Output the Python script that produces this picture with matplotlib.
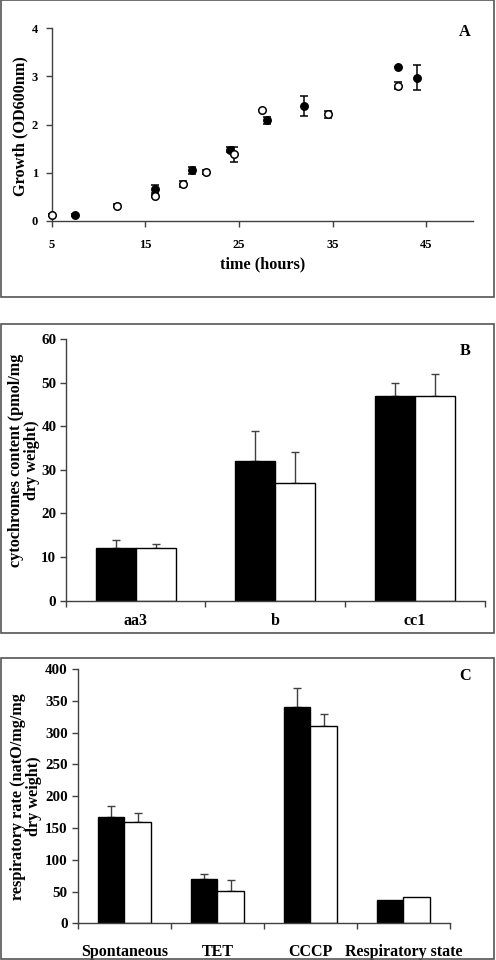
import numpy as np
import matplotlib
matplotlib.use("Agg")
import matplotlib.pyplot as plt
from matplotlib.patches import Rectangle

plt.rcParams['font.family'] = ['Liberation Serif', 'DejaVu Serif']
plt.rcParams['font.weight'] = 'bold'

# panel A: growth curves
t_open = [5, 12, 16, 19, 21.5, 24.5, 27.5, 34.5, 42]
od_open = [0.12, 0.31, 0.52, 0.77, 1.01, 1.38, 2.30, 2.21, 2.81]
err_open = [0.02, 0.03, 0.02, 0.06, 0.04, 0.16, 0.0, 0.08, 0.08]
t_fill = [7.5, 16, 20, 24, 28, 32, 42, 44]
od_fill = [0.12, 0.66, 1.05, 1.48, 2.09, 2.38, 3.19, 2.97]
err_fill = [0.02, 0.09, 0.07, 0.06, 0.07, 0.21, 0.0, 0.26]

# panel B: cytochromes
cyt_names = ["aa3", "b", "cc1"]
cyt_black = [12, 32, 47]
cyt_black_err = [2, 7, 3]
cyt_white = [12, 27, 47]
cyt_white_err = [1, 7, 5]

# panel C: respiratory rate
resp_names = ["Spontaneous", "TET", "CCCP", "Respiratory state"]
resp_black = [167, 70, 340, 36]
resp_black_err = [17, 7, 30, 0]
resp_white = [160, 51, 310, 42]
resp_white_err = [14, 17, 20, 0]

W, H = 496, 960
fig = plt.figure(figsize=(W/100, H/100), dpi=100)
LAB = 11.7

def px_axes(left, right, top, bottom):
    return fig.add_axes([left/W, 1-bottom/H, (right-left)/W, (bottom-top)/H])

def frame(top, bottom):
    fig.patches.append(Rectangle((0.5/W, 1-bottom/H), 493/W, (bottom-top)/H,
                                 transform=fig.transFigure, fill=False,
                                 edgecolor='#555555', lw=1.2))

axcol = '#404040'

def style(ax, tsize):
    for s in ['top', 'right']:
        ax.spines[s].set_visible(False)
    for s in ['left', 'bottom']:
        ax.spines[s].set_color(axcol)
        ax.spines[s].set_linewidth(1.0)
    ax.tick_params(direction='out', length=4, width=1, color=axcol, labelsize=tsize)

frame(0, 297)
frame(324, 633)
frame(658, 959)

# ---- A
ax = px_axes(51.7, 473, 28.3, 220.7)
style(ax, 9)
ax.errorbar(t_fill, od_fill, yerr=err_fill, fmt='o', color='black', mfc='black',
            mec='black', ms=5.4, capsize=2.8, elinewidth=1.1, capthick=1.1,
            clip_on=False, zorder=3)
ax.errorbar(t_open, od_open, yerr=err_open, fmt='o', color='black', mfc='white',
            mec='black', ms=5.4, mew=1.1, capsize=2.8, elinewidth=1.1, capthick=1.1,
            clip_on=False, zorder=4)
ax.set_xlim(5, 50)
ax.set_ylim(0, 4)
ax.set_xticks([5, 15, 25, 35, 45])
ax.set_yticks([0, 1, 2, 3, 4])
ax.tick_params(axis='x', pad=9)
ax.tick_params(axis='y', pad=6)
ax.set_xlabel("time (hours)", fontsize=LAB, fontweight='bold', labelpad=4)
ax.set_ylabel("Growth (OD600nm)", fontsize=LAB, fontweight='bold', va='center', ha='center')
ax.yaxis.set_label_coords(-0.0736, 0.49)
ax.text(0.98, 0.98, "A", transform=ax.transAxes, fontsize=LAB, fontweight='bold',
        ha='center', va='center')

# ---- bar panels
def bars(ax, names, vb, eb, vw, ew, ymax, ystep, ylabel, xpad):
    style(ax, 10.8)
    x = np.arange(len(names))
    w = 0.286
    ax.bar(x - w/2, vb, w, color='black', edgecolor='black', lw=1, zorder=2)
    ax.bar(x + w/2, vw, w, color='white', edgecolor='black', lw=1, zorder=2)
    for xs, v, e in [(x - w/2, vb, eb), (x + w/2, vw, ew)]:
        m = np.array(e) > 0
        ax.errorbar(np.array(xs)[m], np.array(v)[m],
                    yerr=[np.zeros(m.sum()), np.array(e)[m]], fmt='none',
                    ecolor=axcol, elinewidth=1, capsize=2.6, zorder=1)
    ax.set_xlim(-0.5, len(names) - 0.5)
    ax.set_ylim(0, ymax)
    ax.set_yticks(np.arange(0, ymax + 1, ystep))
    ax.set_xticks(np.arange(len(names) + 1) - 0.5)
    ax.set_xticklabels([])
    ax.set_xticks(x, minor=True)
    ax.set_xticklabels(names, minor=True, fontsize=11.5, fontweight='bold')
    ax.tick_params(axis='x', which='minor', length=0, pad=xpad)
    ax.set_ylabel(ylabel, fontsize=LAB, fontweight='bold', va='center', ha='center',
                  multialignment='center', linespacing=1.0)
    return ax

axB = px_axes(65.7, 485, 339, 600.7)
bars(axB, cyt_names, cyt_black, cyt_black_err, cyt_white, cyt_white_err, 60, 10,
     "cytochromes content (pmol/mg\ndry weight)", 9)
axB.tick_params(axis='y', pad=2.7)
axB.yaxis.set_label_coords((24.5-65.7)/419.3, 0.538)
axB.text(0.952, 0.955, "B", transform=axB.transAxes, fontsize=LAB, fontweight='bold',
         ha='center', va='center')

axC = px_axes(77.7, 450, 669, 923.3)
bars(axC, resp_names, resp_black, resp_black_err, resp_white, resp_white_err, 400, 50,
     "respiratory rate (natO/mg/mg\ndry weight)", 15)
axC.tick_params(axis='y', pad=3.2)
axC.yaxis.set_label_coords((26-77.7)/372.3, 0.5)
axC.text((465-77.7)/372.3, (923.3-676)/254.3, "C", transform=axC.transAxes, fontsize=LAB,
         fontweight='bold', ha='center', va='center')

fig.savefig("out.png", dpi=100)
